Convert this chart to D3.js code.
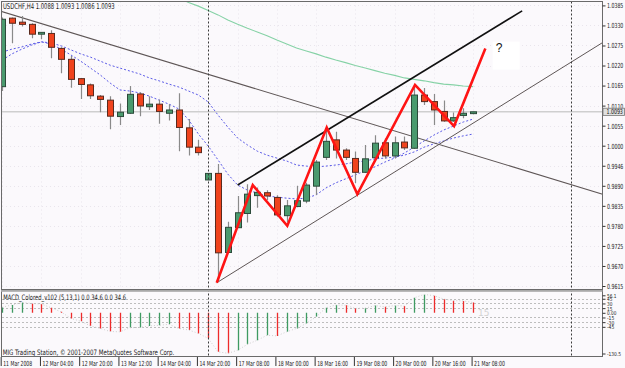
<!DOCTYPE html>
<html><head><meta charset="utf-8">
<script src="https://cdn.jsdelivr.net/npm/d3@7/dist/d3.min.js"></script>
<style>
html,body{margin:0;padding:0;background:#fbf9fc;}
svg{display:block;font-family:"DejaVu Sans",Verdana,sans-serif;}
</style></head><body>
<svg id="c" width="625" height="368"></svg>
<script>
// ---------------- DATA ----------------
const chartTitle = "USDCHF,H4  1.0088 1.0093 1.0086 1.0093";
const macdTitle = "MACD_Colored_v102 (5,13,1) 0.0 34.6 0.0 34.6";
const footerText = "MIG Trading Station, \u00A9 2001-2007 MetaQuotes Software Corp.";

const opens  = [1.0162,1.0350,1.0339,1.0333,1.0306,1.0308,1.0267,1.0237,1.0184,1.0167,1.0136,1.0125,1.0080,1.0089,1.0142,1.0107,1.0114,1.0089,1.0098,1.0049,0.9996,0.9906,0.9924,0.9707,0.9775,0.9814,0.9863,0.9871,0.9858,0.9808,0.9833,0.9848,0.9889,0.9968,1.0016,0.9988,0.9965,0.9927,0.9967,1.0008,0.9972,1.0010,0.9993,1.0139,1.0121,1.0094,1.0068,1.0083,1.0088];
const highs  = [1.0352,1.0352,1.0356,1.0336,1.0312,1.0317,1.0270,1.0246,1.0186,1.0171,1.0139,1.0136,1.0116,1.0164,1.0147,1.0136,1.0127,1.0114,1.0144,1.0073,1.0016,0.9925,0.9950,0.9791,0.9862,0.9894,0.9885,0.9878,0.9864,0.9851,0.9890,0.9898,0.9961,1.0038,1.0038,0.9993,0.9984,1.0002,1.0029,1.0020,1.0025,1.0025,1.0160,1.0158,1.0142,1.0124,1.0091,1.0103,1.0093];
const lows   = [1.0150,1.0281,1.0327,1.0295,1.0292,1.0240,1.0199,1.0159,1.0128,1.0128,1.0092,1.0045,1.0057,1.0087,1.0081,1.0098,1.0060,1.0069,0.9985,0.9973,0.9973,0.9905,0.9627,0.9706,0.9774,0.9789,0.9830,0.9851,0.9805,0.9789,0.9831,0.9842,0.9865,0.9961,0.9965,0.9961,0.9897,0.9925,0.9961,0.9965,0.9965,0.9988,0.9991,1.0112,1.0057,1.0066,1.0066,1.0075,1.0086];
const closes = [1.0347,1.0336,1.0333,1.0306,1.0311,1.0270,1.0237,1.0182,1.0168,1.0137,1.0127,1.0081,1.0092,1.0141,1.0109,1.0114,1.0094,1.0098,1.0050,0.9996,0.9981,0.9924,0.9706,0.9776,0.9816,0.9867,0.9872,0.9862,0.9810,0.9835,0.9849,0.9892,0.9955,1.0012,0.9988,0.9968,0.9927,0.9964,1.0007,0.9972,1.0008,0.9994,1.0139,1.0121,1.0098,1.0068,1.0077,1.0089,1.0093];

const fastMA = [1.0235,1.0252,1.0265,1.0276,1.0285,1.0279,1.0265,1.0249,1.0232,1.0213,1.0194,1.0172,1.0153,1.0150,1.0145,1.0136,1.0125,1.0114,1.0101,1.0071,1.0032,0.9999,0.9961,0.9922,0.9892,0.9878,0.9870,0.9862,0.9859,0.9856,0.9854,0.9856,0.9865,0.9884,0.9898,0.9909,0.9920,0.9931,0.9942,0.9955,0.9966,0.9980,0.9996,1.0013,1.0029,1.0043,1.0054,1.0065,1.0073];
const slowMA = [1.0257,1.0265,1.0271,1.0279,1.0285,1.0282,1.0274,1.0263,1.0252,1.0243,1.0232,1.0221,1.0213,1.0205,1.0197,1.0186,1.0178,1.0169,1.0161,1.0150,1.0139,1.0120,1.0084,1.0051,1.0021,1.0002,0.9985,0.9974,0.9966,0.9958,0.9947,0.9944,0.9942,0.9944,0.9947,0.9950,0.9955,0.9958,0.9964,0.9966,0.9969,0.9974,0.9983,0.9996,1.0005,1.0013,1.0021,1.0027,1.0032];
const longMAStart = 17;
const longMA = [1.0416,1.0405,1.0393,1.0383,1.0371,1.0359,1.0345,1.0333,1.0322,1.0312,1.0302,1.0290,1.0279,1.0268,1.0260,1.0252,1.0243,1.0235,1.0228,1.0220,1.0213,1.0206,1.0199,1.0193,1.0186,1.0182,1.0178,1.0173,1.0169,1.0167,1.0164,1.0162];

const macdValues = [18,25,33,30,28,16,3,-18,-27,-42,-50,-60,-61,-48,-47,-42,-40,-37,-50,-55,-66,-82,-125,-130,-120,-101,-88,-72,-74,-61,-50,-34,-13,16,25,24,14,15,23,19,23,22,48,59,55,44,39,38,33];

const timeLabelIdx = [0,4,8,12,16,20,24,28,32,36,40,44,48];
const timeLabels = ["11 Mar 2008","12 Mar 04:00","12 Mar 20:00","13 Mar 12:00","14 Mar 04:00","14 Mar 20:00","17 Mar 08:00","18 Mar 00:00","18 Mar 16:00","19 Mar 08:00","20 Mar 00:00","20 Mar 16:00","21 Mar 08:00"];

const priceTicks = [1.0385,1.0330,1.0275,1.0220,1.0165,1.0110,1.0055,1.0000,0.9945,0.9890,0.9835,0.9780,0.9725,0.9670,0.9615];
const priceTickLabels = ["1.0385","1.0330","1.0275","1.0220","1.0165","1.0110","1.0055","1.0000","0.9946","0.9890","0.9835","0.9780","0.9725","0.9670","0.9615"];
const bidPrice = 1.0093;
const bidLabel = "1.0093";

const macdTicks = [56.1,45,30,15,0,-15,-30,-45,-130.5];
const macdTickLabels = ["56.1","45","30","15","0.00","-15","-30","-45","-130.5"];
const macdLevels = [45,30,15,-15,-30,-45];

const zigzag = [[21.87,0.9624],[25.54,0.9892],[29.06,0.9780],[33.08,1.0050],[36.2,0.9867],[42.08,1.0167],[46.06,1.0054],[49.25,1.0267]];
const upperTrend = [[24.0,0.9892],[53.0,1.0370]];
const lowerTrend = [[21.87,0.9624],[61.2,1.0283]];
const longTrend  = [[-0.05,1.0368],[61.2,0.9867]];
const separatorIdx = [21, 58];
const questionAt = [50.3, 1.0272];

// ---------------- SCALES ----------------
const W = 625, H = 368;
const plotL = 2, plotR = 602.5, mainTop = 1.5, mainBot = 289.5, subTop = 291.5, subBot = 356;
const x = d3.scaleLinear().domain([0, 48]).range([2.2, 473.1]);
const y = d3.scaleLinear().domain([0.9615, 1.0385]).range([286, 5.4]);
const ym = d3.scaleLinear().domain([-130.5, 56.1]).range([353.5, 295.3]);

const svg = d3.select("#c");
const defs = svg.append("defs");
defs.append("clipPath").attr("id","cm").append("rect").attr("x",plotL).attr("y",mainTop).attr("width",plotR-plotL).attr("height",mainBot-mainTop);
defs.append("clipPath").attr("id","cs").append("rect").attr("x",plotL).attr("y",subTop).attr("width",plotR-plotL).attr("height",subBot-subTop);

svg.append("rect").attr("width",W).attr("height",H).attr("fill","#fbf9fc");

const charW = c => /[0-9]/.test(c) ? 3.0 : c === "." ? 1.4 : c === "-" ? 2.2 : 3.0;
const numW = s => Array.from(s).reduce((a,c)=>a+charW(c),0);

// squeeze a text element horizontally to a target width using a real transform
function squeeze(node, tx, ty, target) {
  node.setAttribute("x", 0); node.setAttribute("y", 0); node.removeAttribute("dy");
  const n = node.getComputedTextLength();
  const sx = n > 0 ? target / n : 1;
  node.setAttribute("transform", `translate(${tx},${ty}) scale(${sx.toFixed(4)},1)`);
}

// ---------------- MAIN PANEL ----------------
const main = svg.append("g").attr("clip-path","url(#cm)");

main.selectAll("line.gh").data(priceTicks).join("line").attr("class","gh")
  .attr("x1",plotL).attr("x2",plotR).attr("y1",d=>Math.round(y(d))+0.5).attr("y2",d=>Math.round(y(d))+0.5)
  .attr("stroke","#e9e5ec").attr("stroke-dasharray","1,3");
main.selectAll("line.gv").data(timeLabelIdx).join("line").attr("class","gv")
  .attr("x1",d=>Math.round(x(d))+0.5).attr("x2",d=>Math.round(x(d))+0.5).attr("y1",mainTop).attr("y2",mainBot)
  .attr("stroke","#e9e5ec").attr("stroke-dasharray","1,3");

main.append("line").attr("x1",plotL).attr("x2",plotR).attr("y1",y(bidPrice)).attr("y2",y(bidPrice))
  .attr("stroke","#cfcfcf").attr("stroke-width",1.6);

const lineIdx = d3.line().x((d,i)=>x(i)).y(d=>y(d));
main.append("path").attr("d", d3.line().x((d,i)=>x(i+longMAStart)).y(d=>y(d))(longMA))
  .attr("fill","none").attr("stroke","#86d2a6").attr("stroke-width",1.1);
main.append("path").attr("d", lineIdx(slowMA)).attr("fill","none").attr("stroke","#5a5ae6").attr("stroke-width",1).attr("stroke-dasharray","2,2");
main.append("path").attr("d", lineIdx(fastMA)).attr("fill","none").attr("stroke","#5a5ae6").attr("stroke-width",1).attr("stroke-dasharray","2,2");

const ptLine = d3.line().x(d=>x(d[0])).y(d=>y(d[1]));
main.append("path").attr("d", ptLine(longTrend)).attr("fill","none").attr("stroke","#5e5656").attr("stroke-width",1.1);
main.append("path").attr("d", ptLine(lowerTrend)).attr("fill","none").attr("stroke","#5e5656").attr("stroke-width",1);
main.append("path").attr("d", ptLine(upperTrend)).attr("fill","none").attr("stroke","#111").attr("stroke-width",1.6);

const bars = d3.range(opens.length);
const cg = main.append("g");
cg.selectAll("line.wick").data(bars).join("line").attr("class","wick")
  .attr("x1",i=>Math.round(x(i))+0.5).attr("x2",i=>Math.round(x(i))+0.5)
  .attr("y1",i=>y(highs[i])).attr("y2",i=>y(lows[i]))
  .attr("stroke","#8a8a8a").attr("stroke-width",1.2);
cg.selectAll("rect.body").data(bars).join("rect").attr("class","body")
  .attr("x",i=>Math.round(x(i))-2.5).attr("width",6)
  .attr("y",i=>Math.min(y(opens[i]),y(closes[i])))
  .attr("height",i=>Math.max(1.5,Math.abs(y(opens[i])-y(closes[i]))))
  .attr("fill",i=>closes[i]>=opens[i] ? "#4a9a6e" : "#f0431d")
  .attr("stroke",i=>closes[i]>=opens[i] ? "#2b4a3a" : "#5a2a1e").attr("stroke-width",1);

main.append("path").attr("d", ptLine(zigzag)).attr("fill","none").attr("stroke","#ff1414")
  .attr("stroke-width",2.6).attr("stroke-linejoin","miter");

main.append("rect").attr("x",x(questionAt[0])-3).attr("y",y(questionAt[1])-5).attr("width",27).attr("height",28).attr("fill","#ffffff");
main.append("text").attr("x",x(questionAt[0])).attr("y",y(questionAt[1])+5)
  .attr("font-family","Liberation Sans, Arial, sans-serif").attr("font-size",12).attr("fill","#111").text("?");

const tt = svg.append("text").attr("font-size",8).attr("fill","#1a1a1a").text(chartTitle);
squeeze(tt.node(), 3, 9.3, 112);

// ---------------- MACD PANEL ----------------
const sub = svg.append("g").attr("clip-path","url(#cs)");
sub.selectAll("line.lv").data(macdLevels).join("line").attr("class","lv")
  .attr("x1",plotL).attr("x2",plotR).attr("y1",d=>Math.round(ym(d))+0.5).attr("y2",d=>Math.round(ym(d))+0.5)
  .attr("stroke","#bdbdbd").attr("stroke-dasharray","2,2");
sub.selectAll("line.hb").data(bars).join("line").attr("class","hb")
  .attr("x1",i=>Math.round(x(i))+0.5).attr("x2",i=>Math.round(x(i))+0.5)
  .attr("y1",ym(0)).attr("y2",i=>ym(macdValues[i]))
  .attr("stroke",i=> (i===0 || macdValues[i]>=macdValues[i-1]) ? "#3f9a62" : "#ee2b2b").attr("stroke-width",1.3);
sub.append("path").attr("d", d3.line().x((d,i)=>x(i)).y(d=>ym(d))(macdValues))
  .attr("fill","none").attr("stroke","#cfcfcf").attr("stroke-dasharray","1,2");
sub.append("text").attr("x",x(48)+5).attr("y",ym(0)+3.5).attr("font-size",9).attr("fill","#d2d2d2").text("15");

const mt = svg.append("text").attr("font-size",7.5).attr("fill","#1a1a1a").text(macdTitle);
squeeze(mt.node(), 3.3, 300, 123);
const ft = svg.append("text").attr("font-size",7.5).attr("fill","#1a1a1a").text(footerText);
squeeze(ft.node(), 2.7, 354.5, 172);

// ---------------- SEPARATORS ----------------
svg.selectAll("line.sep").data(separatorIdx).join("line").attr("class","sep")
  .attr("x1",d=>Math.round(x(d))+0.5).attr("x2",d=>Math.round(x(d))+0.5).attr("y1",mainTop).attr("y2",subBot)
  .attr("stroke","#3a3a3a").attr("stroke-dasharray","2,2");

// ---------------- FRAME ----------------
const fr = svg.append("g").attr("stroke","#6a6a6a").attr("fill","none");
fr.append("line").attr("x1",1.5).attr("x2",1.5).attr("y1",1).attr("y2",subBot);
fr.append("line").attr("x1",1).attr("x2",plotR).attr("y1",1.5).attr("y2",1.5);
fr.append("line").attr("x1",1).attr("x2",plotR).attr("y1",mainBot).attr("y2",mainBot);
svg.append("rect").attr("x",1).attr("y",mainBot+0.5).attr("width",plotR-1).attr("height",1.8).attr("fill","#a9a9a9");
fr.append("line").attr("x1",1).attr("x2",plotR).attr("y1",subBot+0.5).attr("y2",subBot+0.5);
fr.append("line").attr("x1",plotR).attr("x2",plotR).attr("y1",1).attr("y2",subBot+1);

// ---------------- AXES ----------------
const pAxis = d3.axisRight(y).tickValues(priceTicks).tickSize(3).tickPadding(2)
  .tickFormat((d,i)=>priceTickLabels[i]);
const pa = svg.append("g").attr("transform",`translate(${plotR},0)`).call(pAxis);
pa.select(".domain").remove();
pa.selectAll("line").attr("stroke","#333");
pa.selectAll("text").attr("font-size",7).attr("font-family","DejaVu Sans, sans-serif").attr("fill","#1a1a1a")
  .each(function(d,i){ squeeze(this, 4.5, 2.4, numW(priceTickLabels[i])); });

svg.append("rect").attr("x",plotR+0.5).attr("y",y(bidPrice)-3.6).attr("width",21.5).attr("height",7.2)
  .attr("fill","#e0e0e0").attr("stroke","#777").attr("stroke-width",0.8);
const bl = svg.append("text").attr("font-size",7).attr("fill","#111").text(bidLabel);
squeeze(bl.node(), plotR+4, y(bidPrice)+2.4, numW(bidLabel));

const mAxis = d3.axisRight(ym).tickValues(macdTicks).tickSize(3).tickPadding(2)
  .tickFormat((d,i)=>macdTickLabels[i]);
const ma = svg.append("g").attr("transform",`translate(${plotR},0)`).call(mAxis);
ma.select(".domain").remove();
ma.selectAll("line").attr("stroke","#333");
ma.selectAll("text").attr("font-size",5.5).attr("font-family","DejaVu Sans, sans-serif").attr("fill","#1a1a1a")
  .each(function(d,i){ squeeze(this, 4.5, 1.9, numW(macdTickLabels[i])*0.9); });

const tAxis = d3.axisBottom(x).tickValues(timeLabelIdx).tickSize(9).tickPadding(0)
  .tickFormat((d,i)=>timeLabels[i]);
const ta = svg.append("g").attr("transform",`translate(0,${subBot+1})`).call(tAxis);
ta.select(".domain").remove();
ta.selectAll("line").attr("stroke","#333").attr("transform","translate(-1.5,0)");
ta.selectAll("text").attr("font-size",7).attr("font-family","DejaVu Sans, sans-serif").attr("fill","#1a1a1a")
  .attr("text-anchor","start")
  .each(function(d,i){ squeeze(this, 0.5, 9, i===0 ? 29 : 31); });
</script>
</body></html>
